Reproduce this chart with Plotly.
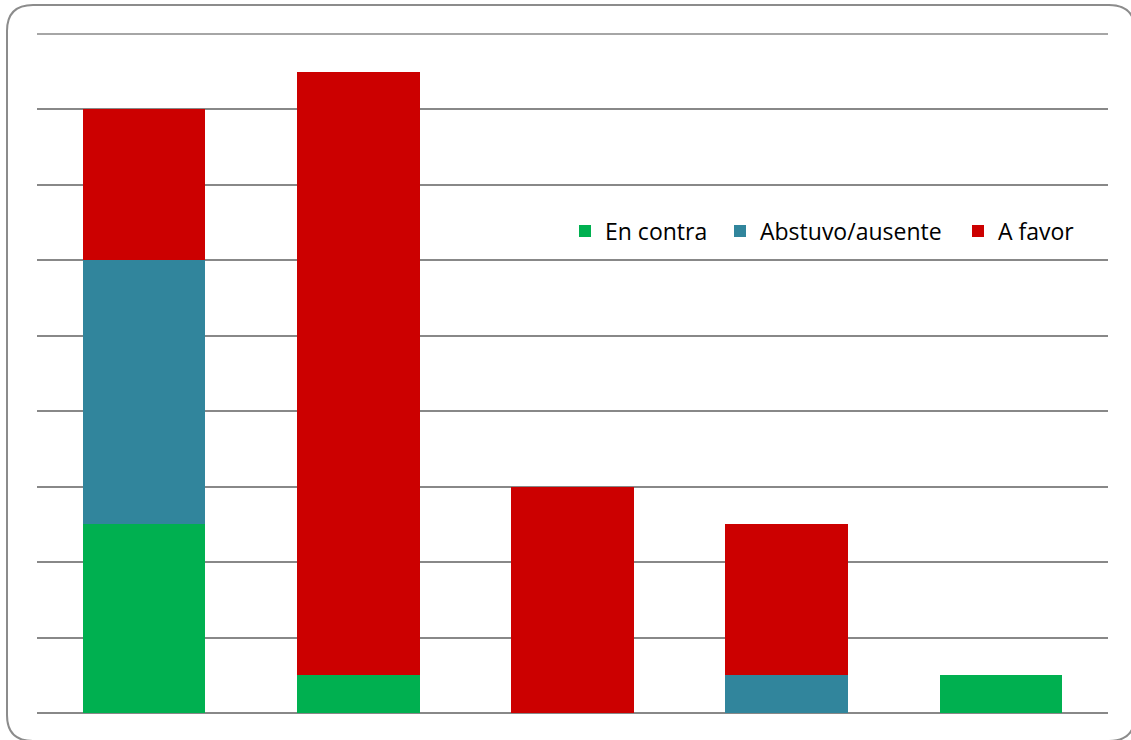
import plotly.graph_objects as go

categories = ["1", "2", "3", "4", "5"]
en_contra = [5, 1, 0, 0, 1]
abstuvo = [7, 0, 0, 1, 0]
a_favor = [4, 16, 6, 4, 0]

W, H = 1131, 740
L, R, T, B = 37, 23, 34, 27
pw, ph = W - L - R, H - T - B

def px_x(x):
    return (x - L) / pw

def px_y(y):
    return (H - B - y) / ph

fig = go.Figure()
fig.add_trace(go.Bar(name="En contra", x=categories, y=en_contra, legend="legend",
                     marker=dict(color="#00B050", line=dict(width=0))))
fig.add_trace(go.Bar(name="Abstuvo/ausente", x=categories, y=abstuvo, legend="legend2",
                     marker=dict(color="#31859C", line=dict(width=0))))
fig.add_trace(go.Bar(name="A favor", x=categories, y=a_favor, legend="legend3",
                     marker=dict(color="#CC0000", line=dict(width=0))))

# top gridline at axis max (plotly omits the gridline at the range edge)
fig.add_shape(type="line", xref="paper", yref="paper", x0=0, x1=1, y0=1, y1=1,
              line=dict(color="#888888", width=1.5), layer="below")

# rounded border around whole chart
x0, x1, y0, y1, r = 7, 1135, 5, 741, 26
rx, ry = r / pw, r / ph
X0, X1, Y0, Y1 = px_x(x0), px_x(x1), px_y(y0), px_y(y1)
path = (f"M {X0+rx},{Y0} L {X1-rx},{Y0} Q {X1},{Y0} {X1},{Y0-ry} "
        f"L {X1},{Y1+ry} Q {X1},{Y1} {X1-rx},{Y1} "
        f"L {X0+rx},{Y1} Q {X0},{Y1} {X0},{Y1+ry} "
        f"L {X0},{Y0-ry} Q {X0},{Y0} {X0+rx},{Y0} Z")
fig.add_shape(type="path", path=path, xref="paper", yref="paper",
              line=dict(color="#8C8C8C", width=2), fillcolor="rgba(0,0,0,0)")

legend_font = dict(family="Open Sans", size=23, color="#000000")

def leg(xpx):
    return dict(orientation="h", x=px_x(xpx), y=px_y(231),
                xanchor="left", yanchor="middle", font=legend_font,
                bgcolor="rgba(0,0,0,0)")

fig.update_layout(
    width=W, height=H,
    margin=dict(l=L, r=R, t=T, b=B),
    barmode="stack",
    bargap=0.428,
    plot_bgcolor="white",
    paper_bgcolor="white",
    showlegend=True,
    legend=leg(565),
    legend2=leg(720),
    legend3=leg(958),
    xaxis=dict(showticklabels=False, showgrid=False, showline=False,
               ticks="", zeroline=False),
    yaxis=dict(range=[0, 18], dtick=2, showticklabels=False, ticks="",
               showgrid=True, gridcolor="#888888", gridwidth=1.5,
               zeroline=True, zerolinecolor="#888888", zerolinewidth=1.5,
               showline=False),
)

fig.write_html("out.html")
